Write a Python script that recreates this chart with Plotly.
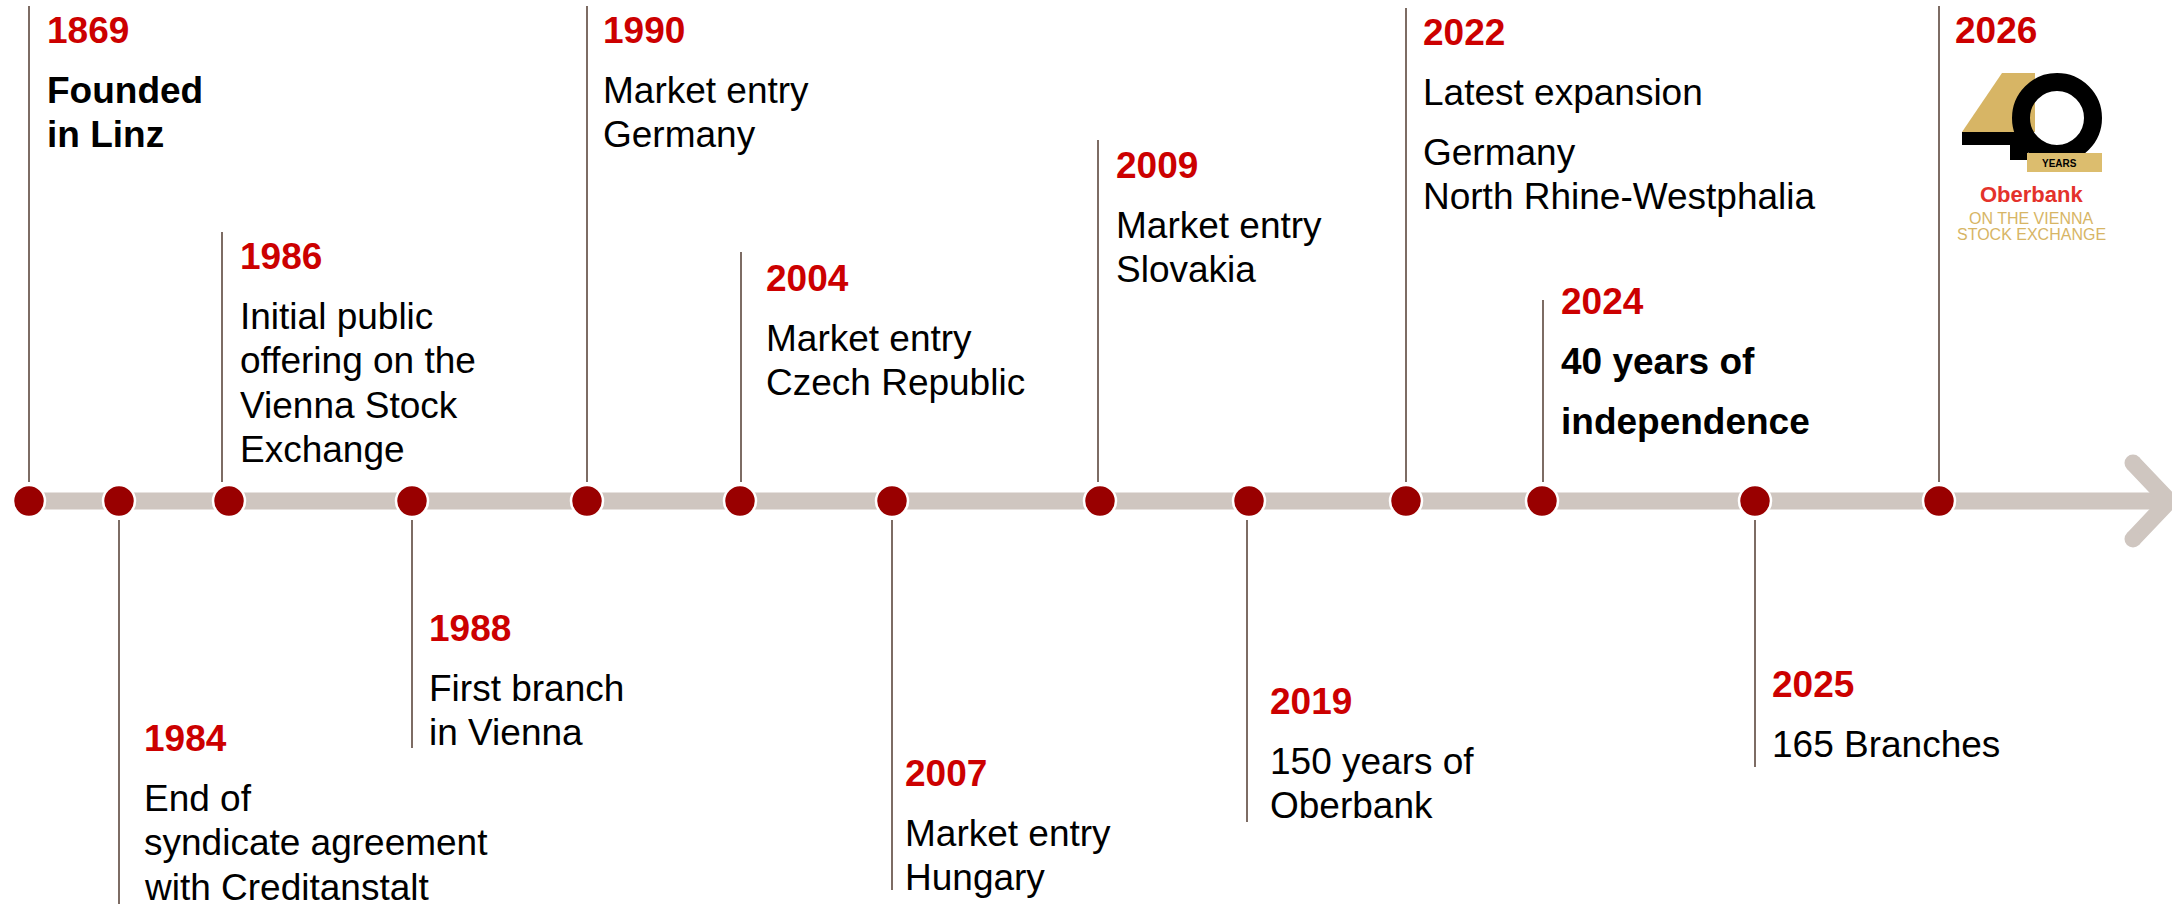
import plotly.graph_objects as go

# Timeline milestones
years = ["1869", "1984", "1986", "1988", "1990", "2004", "2007",
         "2009", "2019", "2022", "2024", "2025", "2026"]
descriptions = [
    "Founded\nin Linz",
    "End of\nsyndicate agreement\nwith Creditanstalt",
    "Initial public\noffering on the\nVienna Stock\nExchange",
    "First branch\nin Vienna",
    "Market entry\nGermany",
    "Market entry\nCzech Republic",
    "Market entry\nHungary",
    "Market entry\nSlovakia",
    "150 years of\nOberbank",
    "Latest expansion\n\nGermany\nNorth Rhine-Westphalia",
    "40 years of\n\nindependence",
    "165 Branches",
    "",
]
bold_years = ["1869", "2024"]

# slide layout in pixels (the axes are set up 1:1 with the page)
W, H = 2172, 904
axis_y = 501
slot_x = [29, 119, 229, 412, 587, 740, 892, 1100, 1249, 1406, 1542, 1755, 1939]
stem_x = [29, 119, 222, 412, 587, 741, 892, 1098, 1247, 1406, 1543, 1755, 1939]
stem_end = [6, 904, 232, 748, 6, 252, 890, 140, 822, 8, 300, 767, 6]
year_y = [30, 738, 256, 628, 30, 278, 773, 165, 701, 32, 301, 684, 30]
label_x = [46, 143, 239, 428, 602, 765, 904, 1115, 1269, 1422, 1560, 1771, 1954]

RED = "#cc0000"
DOT = "#990000"
BAR = "#cfc6c0"
STEM = "#7d6c64"
GOLD = "#d7b565"
FONT = "Arial, Liberation Sans, sans-serif"
FS = 37
PARA_GAP = 60
LINE_GAP = 44.5

fig = go.Figure()

# main bar with arrow head
fig.add_trace(go.Scatter(x=[slot_x[0], W - 6], y=[axis_y, axis_y], mode="lines",
                         line=dict(color=BAR, width=17), hoverinfo="skip"))
fig.add_trace(go.Scatter(x=[W - 39, W - 3, W - 39], y=[axis_y - 38, axis_y, axis_y + 38],
                         mode="lines", line=dict(color=BAR, width=17), hoverinfo="skip"))
fig.add_trace(go.Scatter(x=[W - 39, W - 39], y=[axis_y - 38, axis_y + 38], mode="markers",
                         marker=dict(color=BAR, size=17), hoverinfo="skip"))

# stems
sx, sy = [], []
for x, end in zip(stem_x, stem_end):
    near = axis_y - 19 if end < axis_y else axis_y + 19
    sx += [x, x, None]
    sy += [end, near, None]
fig.add_trace(go.Scatter(x=sx, y=sy, mode="lines", line=dict(color=STEM, width=2),
                         hoverinfo="skip"))

# dots
fig.add_trace(go.Scatter(x=slot_x, y=[axis_y] * len(slot_x), mode="markers",
                         marker=dict(color=DOT, size=32, line=dict(color="white", width=2.5)),
                         hoverinfo="skip"))

annotations = []
for yr, desc, lx, yy in zip(years, descriptions, label_x, year_y):
    annotations.append(dict(x=lx, y=yy, text=yr, xanchor="left", yanchor="middle",
                            showarrow=False, borderpad=0,
                            font=dict(family=FONT, size=FS, color=RED, weight="bold")))
    if not desc:
        continue
    weight = "bold" if yr in bold_years else "normal"
    y = yy
    for para in desc.split("\n\n"):
        y += PARA_GAP
        for i, line in enumerate(para.split("\n")):
            if i > 0:
                y += LINE_GAP
            annotations.append(dict(x=lx, y=y, text=line, xanchor="left", yanchor="middle",
                                    showarrow=False, borderpad=0,
                                    font=dict(family=FONT, size=FS, color="black", weight=weight)))

# anniversary logo next to 2026
lx = slot_x[-1]
shapes = [
    dict(type="path", path=f"M {lx+23} 132 L {lx+63} 73 L {lx+96} 73 L {lx+96} 132 Z",
         fillcolor=GOLD, line=dict(width=0)),
    dict(type="circle", x0=lx + 82, x1=lx + 154, y0=82, y1=154,
         line=dict(color="black", width=18)),
    dict(type="rect", x0=lx + 23, x1=lx + 94, y0=132, y1=145,
         fillcolor="black", line=dict(width=0)),
    dict(type="rect", x0=lx + 71, x1=lx + 89, y0=132, y1=160,
         fillcolor="black", line=dict(width=0)),
    dict(type="rect", x0=lx + 88, x1=lx + 163, y0=153, y1=172,
         fillcolor="#dcbd6e", line=dict(width=0)),
]
annotations += [
    dict(x=lx + 120, y=163, text="YEARS", showarrow=False, xanchor="center", yanchor="middle",
         font=dict(family=FONT, size=10, color="black", weight="bold")),
    dict(x=lx + 92, y=194, text="Oberbank", showarrow=False, xanchor="center", yanchor="middle",
         font=dict(family=FONT, size=22, color="#e4322b", weight="bold")),
    dict(x=lx + 92, y=218, text="ON THE VIENNA", showarrow=False, xanchor="center", yanchor="middle",
         font=dict(family=FONT, size=16, color=GOLD)),
    dict(x=lx + 92, y=234, text="STOCK EXCHANGE", showarrow=False, xanchor="center", yanchor="middle",
         font=dict(family=FONT, size=16, color=GOLD)),
]

fig.update_layout(
    width=W, height=H,
    margin=dict(l=0, r=0, t=0, b=0),
    paper_bgcolor="white", plot_bgcolor="white",
    showlegend=False,
    xaxis=dict(range=[0, W], visible=False, fixedrange=True),
    yaxis=dict(range=[H, 0], visible=False, fixedrange=True),
    annotations=annotations,
    shapes=shapes,
)

fig.write_html("out.html", config={"displayModeBar": False},
               post_script="document.body.style.margin='0';document.body.style.overflow='hidden';")
